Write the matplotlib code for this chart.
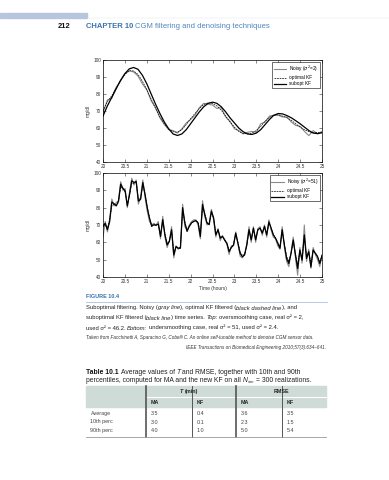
import numpy as np
import matplotlib
matplotlib.use("Agg")
import matplotlib.pyplot as plt
from matplotlib.patches import Rectangle
from matplotlib.lines import Line2D

plt.rcParams['font.family'] = ['Liberation Sans', 'DejaVu Sans']

# ---- data: top panel (oversmoothing), 0.1 h steps from 20 to 25 ----
top_noisy = [69, 76.5, 77.5, 84, 87.5, 92, 93.5, 93, 90.5, 86,
             82.5, 76, 72, 66, 62, 59, 58.5, 57, 59.5, 63,
             65, 67.5, 72, 74.5, 74, 73.5, 71.5, 72, 66.5, 64,
             59.5, 58.5, 56.5, 57.5, 58, 57.5, 62.5, 63.5, 67, 67.5,
             67.5, 66.5, 66.5, 63.5, 61.5, 61, 58, 55.5, 58.5, 56.5, 58]
top_opt = [70, 75.5, 79, 83.5, 88, 91.5, 93.8, 93.5, 91.5, 87.5,
           82.5, 77, 71.5, 66.5, 62.5, 59.5, 57.8, 57.5, 59, 62,
           65.5, 68.5, 71.5, 73.8, 74.8, 74.3, 73, 70.5, 67, 63.5,
           60.5, 58, 56.8, 56.5, 57, 58.5, 61, 64, 66.3, 67.5,
           67.8, 67, 66, 64.5, 62.5, 60.5, 59, 57.8, 57.2, 57.4, 57.5]
top_sub = [67, 73, 78, 83, 88, 92, 94.8, 95.6, 94.5, 91,
           86, 80, 74, 68.5, 63.5, 59.5, 56.5, 55.6, 56.5, 59,
           62.5, 66, 69.5, 72.5, 74.5, 75.2, 74.5, 72.5, 69.5, 66,
           63, 60, 57.8, 56.5, 56.2, 57, 59, 62, 65, 67.5,
           68.5, 68.3, 67.3, 66, 64.3, 62.5, 60.5, 58.5, 57, 56.7, 57.2]

# ---- data: bottom panel (undersmoothing), ~3 min steps from 20 to 25 ----
bot_noisy = [63, 72, 66, 73, 85, 81, 83, 84, 95, 90,
             91, 80, 89, 97, 93, 96, 82, 86, 96, 86,
             78, 72, 70, 71, 70, 72, 62, 75, 63, 57,
             61, 69, 51, 58, 56, 57, 82, 69, 67, 70,
             72, 73, 73, 70, 62, 84, 75, 70, 71, 79,
             73, 63, 68, 61, 64, 61, 59, 53, 58, 58,
             66, 59, 52, 51, 53, 59, 69, 60, 69, 60,
             68, 69, 64, 70, 63, 73, 67, 63, 62, 58,
             56, 69, 57, 49, 46, 54, 63, 51, 41, 57,
             48, 70, 49, 56, 45, 57, 53, 50, 46, 53]
bot_opt = [70, 70, 68, 73, 81, 82, 81.5, 83, 92, 91,
           89, 82, 87, 94, 94, 94.5, 85, 85, 93, 88,
           80.5, 74.5, 70, 70, 70, 70.5, 64.5, 72, 65, 59.5,
           60.5, 66.5, 54, 57.5, 57, 57, 78, 72, 67, 69,
           71, 72, 72.5, 71.5, 64.5, 80, 77, 71.5, 70.5, 77,
           74, 65, 67, 63, 63.5, 61.5, 59.5, 55.5, 57, 58.5,
           64.5, 60, 54.5, 52.5, 53, 58, 66.5, 62, 67.5, 62,
           67, 68, 65.5, 68.5, 65, 71, 68.5, 64.5, 62.5, 60,
           57.5, 66, 59, 52, 49, 53.5, 60.5, 53.5, 47, 55,
           51, 63, 52, 54.5, 47.5, 55, 54, 52, 48.5, 52.5]
bot_sub = [69.2, 71, 67.3, 72, 83.2, 82.3, 81, 83.8, 93.6, 91.2,
           89.7, 81, 87.7, 95.5, 94.5, 95.1, 83.8, 84.8, 94.5, 87.7,
           80, 74, 69.2, 70.2, 69.8, 70.6, 63.4, 73.1, 64.3, 58.5,
           60.5, 67.3, 52.7, 57.5, 56.6, 56.6, 80, 71.2, 66.3, 69.2,
           71.2, 72.1, 72.5, 71.2, 63.4, 81.9, 76, 71.2, 70.2, 78,
           74.1, 64.3, 67.3, 62.4, 63.4, 61.4, 59.5, 54.6, 57, 58.5,
           65.3, 59.5, 53.6, 51.7, 52.7, 58.5, 67.3, 61.4, 68.2, 61.4,
           67.3, 68.2, 65.3, 69.2, 64.3, 71.8, 68.2, 64.3, 62.4, 59.5,
           56.6, 67.3, 58.5, 50.7, 47.8, 53.6, 61.4, 52.7, 44.9, 55.6,
           49.7, 64.3, 50.7, 54.6, 45.8, 55.6, 53.6, 51.7, 47.8, 52.3]

xticks = [20, 20.5, 21, 21.5, 22, 22.5, 23, 23.5, 24, 24.5, 25]
xtick_labels = ['20', '20.5', '21', '21.5', '22', '22.5', '23', '23.5', '24', '24.5', '25']
yticks = [40, 50, 60, 70, 80, 90, 100]

# table 10.1
row_labels = ['Average', '10th perc', '90th perc']
t_ma = ['3.5', '3.0', '4.0']
t_kf = ['0.4', '0.1', '1.0']
rmse_ma = ['3.6', '2.3', '5.0']
rmse_kf = ['3.5', '1.5', '5.4']

W, H = 389, 480
fig = plt.figure(figsize=(W / 100, H / 100), dpi=100)
renderer = fig.canvas.get_renderer()


def fx(px):
  return px / W


def fy(py):
  return 1 - py / H


def segments(x, y, parts, size, color='#222222'):
  # draws a line made of several styled pieces, one after the other
  # parts: (text, style, weight, color[, scale, dy])
  cur = x
  space = 0.278 * size * 100 / 72
  for p in parts:
    text, style, weight, col = p[:4]
    scale = p[4] if len(p) > 4 else 1.0
    dy = p[5] if len(p) > 5 else 0
    lead = len(text) - len(text.lstrip(' '))
    trail = len(text) - len(text.rstrip(' '))
    cur += lead * space * scale
    t = fig.text(fx(cur), fy(y + dy), text.strip(' '), fontsize=size * scale, style=style,
                 weight=weight, color=col or color, va='baseline', ha='left')
    bb = t.get_window_extent(renderer)
    cur = bb.x1 + trail * space * scale


def draw_panel(ax, noisy, opt, sub, noisy_label, show_xlabel):
  ax.plot(np.linspace(20, 25, len(noisy)), noisy, color='#8a8a8a', lw=0.8, label=noisy_label)
  ax.plot(np.linspace(20, 25, len(opt)), opt, color='black', lw=0.5,
          linestyle=(0, (2.5, 1.2)), label='optimal KF')
  ax.plot(np.linspace(20, 25, len(sub)), sub, color='black', lw=0.9, label='subopt KF')
  ax.set_xlim(20, 25)
  ax.set_ylim(40, 100)
  ax.set_xticks(xticks)
  ax.set_xticklabels(xtick_labels)
  ax.set_yticks(yticks)
  ax.tick_params(direction='in', length=2, width=0.4, labelsize=3.4,
                 top=True, right=True, pad=1.5, colors='#333333')
  for s in ax.spines.values():
    s.set_linewidth(0.5)
  ax.set_ylabel('mg/dl', fontsize=3.5, labelpad=2, color='#333333')
  if show_xlabel:
    ax.set_xlabel('Time (hours)', fontsize=3.5, labelpad=1.5, color='#333333')
  leg = ax.legend(loc='upper right', fontsize=3.4, frameon=True, fancybox=False,
                  edgecolor='black', framealpha=1, handlelength=2.6,
                  borderpad=0.4, labelspacing=0.25, handletextpad=0.6,
                  borderaxespad=0.4)
  leg.get_frame().set_linewidth(0.4)


ax1 = fig.add_axes([fx(103), fy(162), fx(322) - fx(103), (162 - 60) / H])
draw_panel(ax1, top_noisy, top_opt, top_sub, r'Noisy ($\sigma^2$=2)', False)
ax2 = fig.add_axes([fx(103), fy(277), fx(322) - fx(103), (277 - 173) / H])
draw_panel(ax2, bot_noisy, bot_opt, bot_sub, r'Noisy ($\sigma^2$=51)', True)

# ---- page header ----
fig.patches.append(Rectangle((0, fy(18.3)), fx(87), 5.6 / H, transform=fig.transFigure,
                             color='#b6c6dd', zorder=0))
fig.add_artist(Line2D([fx(87), 1], [fy(18), fy(18)], color='#e2e6ea', lw=0.3))
blue = '#3b74ae'
fig.text(fx(58), fy(28), '212', fontsize=5.4, weight='bold', color='#111111', va='baseline')
segments(86, 28, [('CHAPTER 10', 'normal', 'bold', blue),
                  (' CGM filtering and denoising techniques', 'normal', 'normal', '#4f86bf')], 5.5)

# ---- figure caption ----
fig.text(fx(86), fy(298), 'FIGURE 10.4', fontsize=4, weight='bold', color=blue, va='baseline')
fig.add_artist(Line2D([fx(86), fx(327)], [fy(301.7), fy(301.7)], color='#a9c1dc', lw=0.6))
cs = 4.25
segments(86, 309.5, [('Suboptimal filtering. Noisy (', 'normal', 'normal', None),
                     ('gray line', 'italic', 'normal', None),
                     ('), optimal KF filtered (', 'normal', 'normal', None),
                     ('black dashed line', 'italic', 'normal', None),
                     ('), and', 'normal', 'normal', None)], cs)
segments(86, 319.5, [('suboptimal KF filtered (', 'normal', 'normal', None),
                     ('black line', 'italic', 'normal', None),
                     (') time series.', 'normal', 'normal', None),
                     (' Top:', 'italic', 'normal', None),
                     (' oversmoothing case, real σ² = 2,', 'normal', 'normal', None)], cs)
segments(86, 329.5, [('used σ² = 46.2.', 'normal', 'normal', None),
                     (' Bottom:', 'italic', 'normal', None),
                     (' undersmoothing case, real σ² = 51, used σ² = 2.4.', 'normal', 'normal', None)], cs)
fig.text(fx(86), fy(339.5),
         'Taken from Facchinetti A, Sparacino G, Cobelli C. An online self-tunable method to denoise CGM sensor data.',
         fontsize=3.3, style='italic', color='#333333', va='baseline')
fig.text(fx(326), fy(349),
         'IEEE Transactions on Biomedical Engineering 2010;57(3):634\u2013641.',
         fontsize=3.3, style='italic', color='#333333', va='baseline', ha='right')

# ---- table caption ----
ts = 4.9
segments(86, 373.5, [('Table 10.1', 'normal', 'bold', '#111111'),
                     (' Average values of', 'normal', 'normal', None),
                     (' T', 'italic', 'normal', None),
                     (' and RMSE, together with 10th and 90th', 'normal', 'normal', None)], ts)
segments(86, 382, [('percentiles, computed for MA and the new KF on all', 'normal', 'normal', None),
                   (' N', 'italic', 'normal', None),
                   ('sim', 'italic', 'normal', None, 0.6, 1.2),
                   (' = 300 realizations.', 'normal', 'normal', None)], ts)

# ---- table ----
left, right = 86, 326
col_x = [146, 192, 236, 282]
fig.patches.append(Rectangle((fx(left), fy(407.3)), fx(right) - fx(left), (407.3 - 385.7) / H,
                             transform=fig.transFigure, color='#cfdbd7', zorder=0))
fig.add_artist(Line2D([fx(146), fx(right)], [fy(397.3), fy(397.3)], color='white', lw=0.8))
for i, cx in enumerate(col_x):
  lw = 1.2 if i % 2 == 0 else 0.7
  fig.add_artist(Line2D([fx(cx), fx(cx)], [fy(385.7), fy(436.7)], color='#555555', lw=lw))
fig.add_artist(Line2D([fx(left), fx(right)], [fy(436.7), fy(436.7)], color='#999999', lw=0.6))

hs = 3.9
segments(180, 393, [('T', 'italic', 'bold', None), (' (min)', 'normal', 'bold', None)], hs)
fig.text(fx(281), fy(393), 'RMSE', fontsize=hs, weight='bold', ha='center', va='baseline',
         color='#222222')
for cx, lab in zip(col_x, ['MA', 'KF', 'MA', 'KF']):
  fig.text(fx(cx + 4.5), fy(404), lab, fontsize=hs, weight='bold', va='baseline', color='#222222')

row_y = [415, 423.5, 432]
for i, ry in enumerate(row_y):
  fig.text(fx(90.5), fy(ry), row_labels[i], fontsize=hs, va='baseline', color='#444444')
  for cx, vals in zip(col_x, [t_ma, t_kf, rmse_ma, rmse_kf]):
    fig.text(fx(cx + 4.5), fy(ry), vals[i], fontsize=hs, va='baseline', color='#444444')

fig.savefig('out.png', dpi=100)
